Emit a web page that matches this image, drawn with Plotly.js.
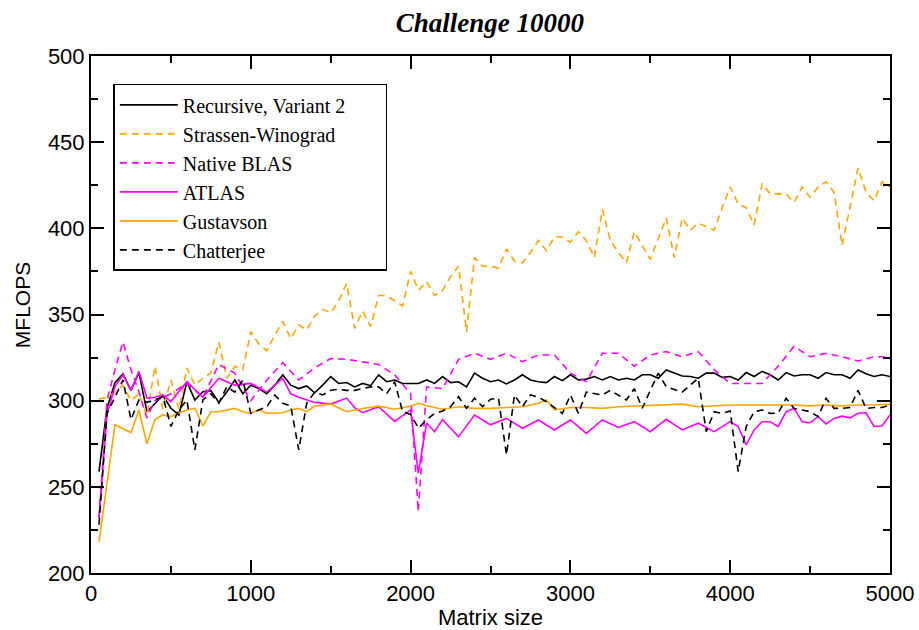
<!DOCTYPE html>
<html>
<head>
<meta charset="utf-8">
<script src="https://cdn.plot.ly/plotly-3.0.1.min.js"></script>
<style>html,body{margin:0;padding:0;background:#fff;}#chart{width:919px;height:630px;}</style>
</head>
<body>
<div id="chart"></div>
<script>
// ---- data ----
const seriesNames = ["Recursive, Variant 2", "Strassen-Winograd", "Native BLAS", "ATLAS", "Gustavson", "Chatterjee"];

const recursiveX = [50,100,150,200,250,300,350,400,450,500,550,600,650,700,750,800,850,900,950,1000,1050,1100,1150,1200,1250,1300,1350,1400,1450,1500,1550,1600,1650,1700,1750,1800,1850,1900,1950,2000,2050,2100,2150,2200,2250,2300,2350,2400,2450,2500,2550,2600,2650,2700,2750,2800,2850,2900,2950,3000,3050,3100,3150,3200,3250,3300,3350,3400,3450,3500,3550,3600,3650,3700,3750,3800,3850,3900,3950,4000,4050,4100,4150,4200,4250,4300,4350,4400,4450,4500,4550,4600,4650,4700,4750,4800,4850,4900,4950,5000];
const recursiveY = [258.8,295.6,310.4,315.5,306,316.3,293.6,298.5,303,295.6,291.7,311,300.4,305.2,305.8,299,305,312,304,309,307,304,309,315,309,307,308.5,304.6,309,314,310,310.5,308,310,308.7,315,311,312,310,310,310,312,310,314,310.5,311,308,316,313,311,312,309.7,312,315,312,311,310.5,314,311.6,315,312,312.5,314,312,314,312,313,312,315,315,313,317.8,316,314.3,314,313,316,316,313.5,314,312,316.3,314,317,315,312,316.3,314.3,315,315,313,316.3,315,315,313,317.8,315.6,314,315,314];

const strassenX = recursiveX;
const strassenY = [301,302,305,309,300,304,291,320,295,312,295,319,309,313,316,334,313,320,318,340,333,329,338,346,336,344,341,349,353,351,358,368,342,352,343,361,361,358,355,375,364,369,361,364,372,378,340,383,378,378,377,388,381,380,386,393,387,395,395,392,398,393,383,411,393,386,380,398,390,382,394,406,383,406,399,403,401,399,412,424,414,412,402,426,420,420,420,415,424,418,424,427,421,390,412,435,421,416,427,424];

const nativeX = [50,100,150,200,250,300,350,400,500,600,700,800,900,1000,1100,1200,1300,1400,1500,1600,1700,1800,1900,2000,2048,2100,2200,2300,2400,2500,2600,2700,2800,2900,3000,3100,3200,3300,3400,3500,3600,3700,3800,3900,4000,4100,4200,4300,4400,4500,4600,4700,4800,4900,5000];
const nativeY = [232,300,318,334,318,305,290,300,304,310,302,321,316,300,312,322,312,319,324.5,324,322.5,321,315,304,235.6,308,307,324,327.5,324,327.5,322.6,326.5,326.5,316,311,327.5,327.5,320,326.5,328.5,325.5,328.5,318,310,310,310,320,331.5,325.5,327.5,325.5,323,325.5,325.5];

const atlasX = [50,100,150,200,250,300,350,400,450,500,600,700,800,900,1000,1100,1200,1250,1300,1400,1500,1600,1650,1700,1800,1900,2000,2048,2100,2150,2200,2300,2400,2500,2600,2700,2800,2900,3000,3100,3200,3300,3400,3500,3600,3700,3800,3900,4000,4050,4100,4150,4200,4250,4300,4350,4400,4450,4500,4550,4600,4650,4700,4750,4800,4850,4900,4950,5000];
const atlasY = [232,292,308,315,306,317,301.5,302,303.3,299.5,311,302,313,309,310,305,313,304,302,299,298,301.5,296,293,296.5,288,294.6,258,287,282,289,279,291.7,286,289.7,284,288.8,283,288.8,281,288.8,284.5,287.8,282,289.2,283,286.9,282,287.8,285,274.3,283,287.8,287.8,285,293.6,295.5,287.8,287.2,290.7,286.5,289.7,291,290,292.7,293,285,285.3,291.7];

const gustavsonX = [50,150,250,300,350,400,450,500,550,600,650,700,750,800,900,950,1000,1050,1100,1200,1250,1300,1350,1400,1500,1600,1700,1800,1900,2000,2050,2100,2200,2300,2400,2500,2600,2700,2800,2850,2900,3000,3100,3200,3300,3400,3500,3600,3700,3800,3900,4000,4100,4200,4300,4400,4500,4600,4700,4800,4900,5000];
const gustavsonY = [218,286,281.5,294.6,275,289,291.7,290.7,293,294.6,295.5,285.3,293.6,293.6,295.5,293.6,292.7,294.6,292.7,293,294.6,295.5,293.6,296.9,298,293.6,295.5,296.9,295,296.9,298.5,297,295,296.5,295.5,295.5,296,296.5,298.5,300.4,294.6,296,296,295.5,296.5,296.9,297,297.5,298,296.5,297,297.5,297.5,297.5,297.5,297.5,297,297.5,297,297.5,297.5,298];

const chatterjeeX = recursiveX;
const chatterjeeY = [228,292.6,302,312,289,300.4,299,300.4,302.3,285,294.6,300.4,271.4,300.4,304,298.5,308,305,312,292.7,294.6,296.5,303.3,298.5,297,271.4,298.5,305,303.3,306,306.6,306,306,307,308,308,304,311,293.6,292,284,289,292.6,294,296.5,302.3,295.6,301.4,296.5,300.8,301.4,268.5,303.3,296.5,303.3,302,299.4,296,292.6,303.3,292.6,305,304,303.3,306,303,300.4,307,295.6,306,316,308,306.5,305,309,313,282,293.6,292.6,294,258.8,285,293.6,294.6,292.6,292.7,301.4,295.5,294.6,293.6,290.7,301.4,295.5,295.5,296,306,295.5,296,296,297.5];

const xTickVals = [0,1000,2000,3000,4000,5000];
const yTickVals = [200,250,300,350,400,450,500];

// ---- styling ----
const ORANGE = "#FFA500", MAGENTA = "#FF00FF", BLACK = "#000000";
const DASH = "7px,5px";
const LEGEND_PAD = "\u2003\u00a0\u00a0\u00a0"; // widens the legend box to the reference width
function tr(name, x, y, color, dash) {
  return {type: "scatter", mode: "lines", name: name + LEGEND_PAD, x: x, y: y,
          line: {color: color, width: 1.6, dash: dash}, hoverinfo: "skip"};
}
const data = [
  tr(seriesNames[0], recursiveX, recursiveY, BLACK, "solid"),
  tr(seriesNames[1], strassenX, strassenY, ORANGE, DASH),
  tr(seriesNames[2], nativeX, nativeY, MAGENTA, DASH),
  tr(seriesNames[3], atlasX, atlasY, MAGENTA, "solid"),
  tr(seriesNames[4], gustavsonX, gustavsonY, ORANGE, "solid"),
  tr(seriesNames[5], chatterjeeX, chatterjeeY, BLACK, DASH)
];

const SANS = "Liberation Sans, Arial, sans-serif";
const SERIF = "Liberation Serif, Times New Roman, serif";
const tickFont = {family: SANS, size: 22, color: "#000"};
const layout = {
  width: 919, height: 630,
  paper_bgcolor: "#fff", plot_bgcolor: "#fff",
  margin: {l: 91, r: 29, t: 56, b: 57},
  title: {text: "<b><i>Challenge 10000</i></b>", x: 0.533, xanchor: "center", y: 0.965, yanchor: "middle",
          font: {family: SERIF, size: 27, color: "#000"}},
  showlegend: true,
  legend: {x: 0.028, y: 0.946, xanchor: "left", yanchor: "top",
           bgcolor: "#fff", bordercolor: "#000", borderwidth: 1.5,
           itemwidth: 58,
           font: {family: SERIF, size: 20, color: "#000"},
           tracegroupgap: 0},
  annotations: [{text: "MFLOPS", xref: "paper", yref: "paper", x: -0.0864, y: 0.518,
                 xanchor: "center", yanchor: "middle", textangle: -90, showarrow: false,
                 font: {family: SANS, size: 21, color: "#000"}}],
  xaxis: {range: [0, 5000], tickvals: xTickVals, ticktext: xTickVals.map(String),
          showgrid: false, zeroline: false, showline: true, linecolor: "#000", linewidth: 2,
          mirror: "allticks", ticks: "inside", ticklen: 13, tickwidth: 2, tickcolor: "#000",
          tickfont: tickFont,
          minor: {dtick: 500, tick0: 0, ticks: "inside", ticklen: 7, tickwidth: 2, tickcolor: "#000", showgrid: false},
          title: {text: "Matrix size", font: {family: SANS, size: 22, color: "#000"}, standoff: 4}},
  yaxis: {range: [200, 500], tickvals: yTickVals, ticktext: yTickVals.map(String),
          showgrid: false, zeroline: false, showline: true, linecolor: "#000", linewidth: 2,
          mirror: "allticks", ticks: "inside", ticklen: 13, tickwidth: 2, tickcolor: "#000",
          tickfont: tickFont,
          minor: {dtick: 25, tick0: 200, ticks: "inside", ticklen: 7, tickwidth: 2, tickcolor: "#000", showgrid: false}}
};
Plotly.newPlot("chart", data, layout, {staticPlot: true, displayModeBar: false});
</script>
</body>
</html>
